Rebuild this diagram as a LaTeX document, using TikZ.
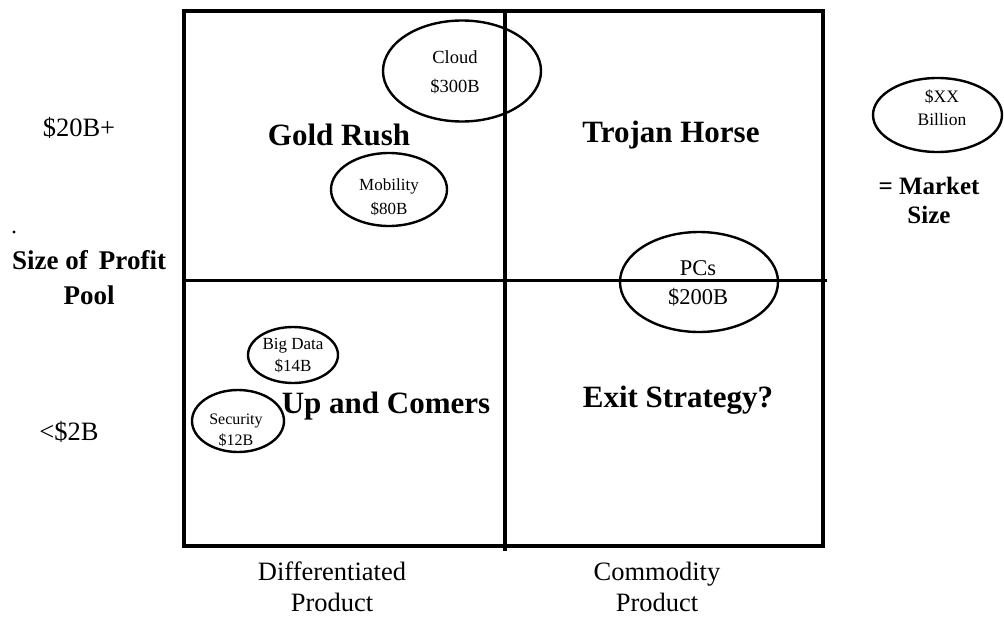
\documentclass[tikz,border=0pt]{standalone}
\usepackage{fontspec}
\setmainfont{Liberation Serif}
\usetikzlibrary{shapes.geometric}
\begin{document}
\begin{tikzpicture}[x=1pt,y=-1pt,
  frame/.style={line width=4pt},
  divider/.style={line width=3.5pt},
  pool/.style={draw, ellipse, line width=2.4pt, inner sep=0pt},
  quad/.style={font=\fontsize{31}{36}\selectfont\bfseries},
  axis/.style={font=\fontsize{26.5}{31}\selectfont, align=center},
  axisbold/.style={font=\fontsize{27}{35}\selectfont\bfseries, align=center},
  lbl/.style={align=center, inner sep=0pt},
]
\useasboundingbox (0,0) rectangle (1004,616);

% matrix frame and dividers
\coordinate (tl) at (183.5,11);
\coordinate (br) at (823,545.5);
\coordinate (vtop) at (505,11);
\coordinate (vbot) at (505,551);
\coordinate (hleft) at (183.5,280.5);
\coordinate (hright) at (826.5,280.5);
\draw[frame] (tl) rectangle (br);
\draw[divider] (vtop) -- (vbot);
\draw[divider] (hleft) -- (hright);

% quadrant titles
\node[quad] (gold) at (339,135) {Gold Rush};
\node[quad] (trojan) at (671,135) {Trojan Horse};
\node[quad] (upcomers) at (386,406) {Up and Comers};
\node[quad] (exit) at (678,400) {Exit Strategy?};

% vertical axis
\node[axis] (high) at (79,128) {\$20B+};
\node[axis] (low) at (69,432) {<\$2B};
\fill (14,232) circle (1.6pt);
\node[axisbold] (yaxis) at (89,278) {Size of\, Profit\\Pool};

% horizontal axis
\node[axis] (diff) at (332,587) {Differentiated\\Product};
\node[axis] (comm) at (657,587) {Commodity\\Product};

% market-size bubbles
\node[pool, minimum width=158, minimum height=101] (cloud) at (462,71) {};
\node[lbl, font=\fontsize{18.5}{29}\selectfont] (cloudtxt) at (455,72) {Cloud\\\$300B};

\node[pool, minimum width=116, minimum height=73] (mobility) at (389,189.5) {};
\node[lbl, font=\fontsize{17}{24}\selectfont] (mobtxt) at (389,197) {Mobility\\\$80B};

\node[pool, minimum width=158, minimum height=100] (pcs) at (699,282) {};
\node[lbl, font=\fontsize{22.5}{29}\selectfont] (pcstxt) at (698,283) {PCs\\\$200B};

\node[pool, minimum width=90, minimum height=56] (bigdata) at (293,355) {};
\node[lbl, font=\fontsize{17}{22}\selectfont] (bdtxt) at (293,356) {Big Data\\\$14B};

\node[pool, minimum width=92, minimum height=62] (security) at (238,421) {};
\node[lbl, font=\fontsize{16}{21}\selectfont] (sectxt) at (236,430) {Security\\\$12B};

% legend
\node[pool, minimum width=129, minimum height=74] (legend) at (937.5,115) {};
\node[lbl, font=\fontsize{17.5}{23}\selectfont] (legtxt) at (942,108) {\$XX\\Billion};
\node[axisbold, font=\fontsize{25}{29}\selectfont\bfseries] (legnote) at (929,200) {= Market\\Size};
\end{tikzpicture}
\end{document}
